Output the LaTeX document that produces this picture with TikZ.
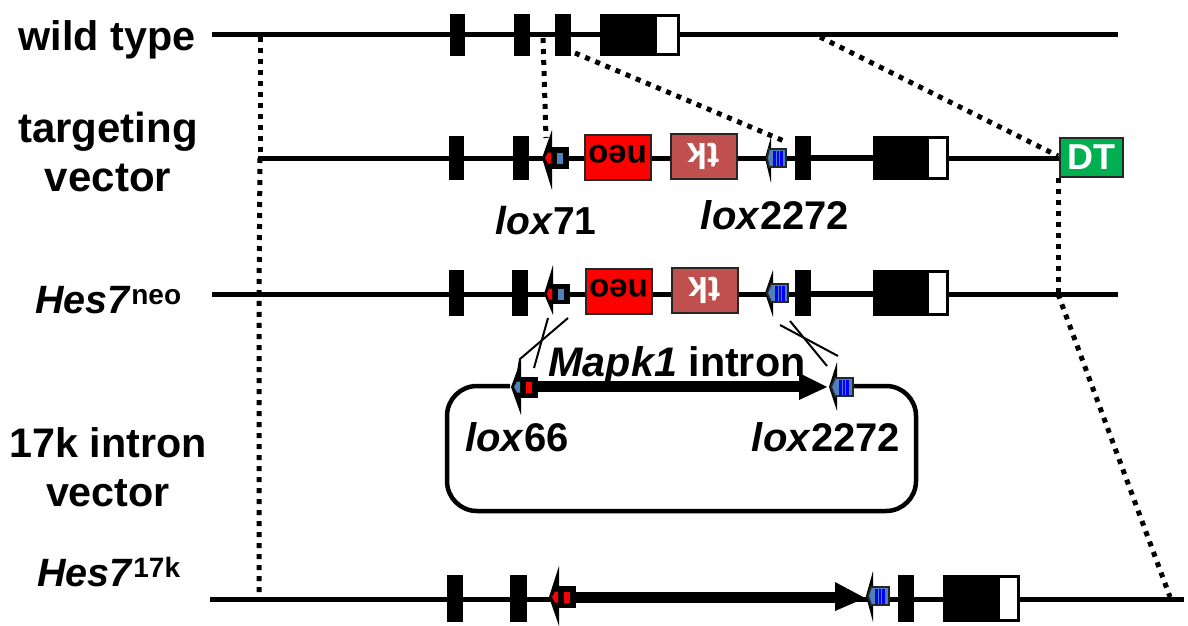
\documentclass[tikz,border=0pt]{standalone}
\usepackage{fontspec}
\setmainfont{Liberation Sans}
\usetikzlibrary{calc}
\definecolor{loxblue}{HTML}{4F81BD}
\definecolor{tkred}{HTML}{C0504D}
\definecolor{dtgreen}{HTML}{00B050}
\newcommand{\fs}[1]{\fontsize{#1}{#1}\selectfont}
\tikzset{
  gene/.style={line width=5pt,black},
  exon/.style={fill=black,draw=none},
  whiteexon/.style={fill=white,draw=black,line width=3.2pt},
  dots/.style={line width=5pt,dash pattern=on 5pt off 6pt,black},
  cross/.style={line width=2pt,black},
  lbl/.style={inner sep=0pt,font=\fs{41.3}\bfseries,align=center},
  loxlbl/.style={inner sep=0pt,font=\fs{40}\bfseries},
  neobox/.style={fill=red,draw=black!85,line width=2pt},
  tkbox/.style={fill=tkred,draw=black!85,line width=2pt},
  dtbox/.style={fill=dtgreen,draw=black!85,line width=2pt},
  hug/.style={rounded corners=30pt,draw=black,line width=4.5pt,fill=none},
  fat/.style={line width=11pt,black},
}
\newcommand{\exonbar}[4]{\fill[exon] (#1,#3) rectangle (#2,#4);}
\newcommand{\bigexon}[5]{%
  \fill[exon] (#1,#4) rectangle (#2,#5);
  \draw[whiteexon] (#2,#4+1.5) rectangle (#3-1.5,#5-1.5);}
\newcommand{\spike}[5]{\fill[black] (#1,#3) -- (#2+1,#4) -- (#2+1,#5) -- cycle;}
\newcommand{\loxblack}[9]{%
  \spike{#1}{#2}{#4}{#5}{#6}
  \fill[black] (#2,#4-#7) rectangle (#3,#4+#7);
  \fill[#8] (#1+3,#4) -- (#2-3,#4-5.5) -- (#2,#4-5.5) -- (#2,#4+5.5) -- (#2-3,#4+5.5) -- cycle;
  \fill[#9] (#2+6,#4-5.5) rectangle (#2+12,#4+5.5);}
\newcommand{\loxblue}[6]{%
  \spike{#1}{#2}{#4}{#5}{#6}
  \filldraw[fill=loxblue,draw=black!85,line width=1.8pt] (#1+2,#4) -- (#2-1,#4-9) -- (#3,#4-9) -- (#3,#4+9) -- (#2-1,#4+9) -- cycle;
  \fill[blue] (#2+3,#4-7.5) rectangle (#2+5.5,#4+7.5);
  \fill[blue] (#2+6.5,#4-7.5) rectangle (#2+9,#4+7.5);
  \fill[blue] (#2+10,#4-7.5) rectangle (#2+12.5,#4+7.5);}
\begin{document}
\begin{tikzpicture}[x=1pt,y=-1pt]
\useasboundingbox (0,0) rectangle (1188,626);
\coordinate (wl) at (212,35);   \coordinate (wr) at (1118,35);
\coordinate (tl) at (258,158);  \coordinate (tr) at (1060,158);
\coordinate (nl) at (212,294);  \coordinate (nr) at (1118,294);
\coordinate (kl) at (210,599);  \coordinate (kr) at (1184,599);
\coordinate (d1a) at (260,37);  \coordinate (d1b) at (260,158);
\coordinate (d2a) at (543,38);  \coordinate (d2b) at (546,138);
\coordinate (d3a) at (575,53);  \coordinate (d3b) at (784,141);
\coordinate (d4a) at (820,37);  \coordinate (d4b) at (1058,156);
\coordinate (d5a) at (1058,178);\coordinate (d5b) at (1058,294);
\coordinate (d6a) at (1170,597);
\coordinate (d7a) at (259,296); \coordinate (d7b) at (259,597);
\draw[dots] (d1a) -- (d1b);
\draw[dots] (d2a) -- (d2b);
\draw[dots] (d3a) -- (d3b);
\draw[dots] (d4a) -- (d4b);
\draw[dots] (d5a) -- (d5b);
\draw[dots] (d5b) -- (d6a);
\draw[dots] (d1b) -- (d7a) -- (d7b);
\draw[gene] (wl) -- (wr);
\exonbar{450}{465}{14}{56}
\exonbar{514}{530}{14}{56}
\exonbar{555}{571}{14}{56}
\bigexon{600}{655}{680}{14}{56}
\draw[gene] (tl) -- (tr);
\exonbar{449}{464}{136}{180}
\exonbar{513}{529}{136}{180}
\exonbar{795}{811}{136}{180}
\bigexon{873}{927}{949}{136}{180}
\loxblack{542}{551}{569}{158}{130}{190}{11}{red}{loxblue}
\node[neobox,minimum width=66pt,minimum height=45pt,inner sep=0pt] (neo1) at (617.5,157) {};
\node[rotate=180,inner sep=0pt,font=\fs{33}\bfseries] at (617.5,154) {neo};
\node[tkbox,minimum width=66pt,minimum height=45pt,inner sep=0pt] (tk1) at (703.5,156) {};
\node[rotate=180,inner sep=0pt,font=\fs{36}\bfseries,text=white] at (703.5,156) {tk};
\loxblue{765}{770}{786}{158}{137}{183}
\node[dtbox,minimum width=63pt,minimum height=39pt,inner sep=0pt,text=white,font=\fs{36}\bfseries] (dt) at (1091,157) {DT};
\draw[gene] (nl) -- (nr);
\exonbar{449}{464}{270}{316}
\exonbar{512}{528}{270}{316}
\exonbar{795}{811}{270}{316}
\bigexon{873}{927}{949}{270}{316}
\draw[line width=6.5pt] (811,294) -- (873,294);
\draw[line width=6.5pt] (811,158) -- (873,158);
\loxblack{544}{552}{570}{294}{265}{315}{10}{red}{loxblue}
\node[neobox,minimum width=66pt,minimum height=45pt,inner sep=0pt] (neo2) at (618.5,291) {};
\node[rotate=180,inner sep=0pt,font=\fs{33}\bfseries] at (618.5,288) {neo};
\node[tkbox,minimum width=66pt,minimum height=45pt,inner sep=0pt] (tk2) at (704.5,290) {};
\node[rotate=180,inner sep=0pt,font=\fs{36}\bfseries,text=white] at (704.5,290) {tk};
\loxblue{765}{772}{788}{293}{270}{317}
\coordinate (c1a) at (568,318); \coordinate (c1b) at (520,359); \coordinate (c1c) at (518,372);
\coordinate (c2a) at (548,318); \coordinate (c2b) at (534,368);
\coordinate (c3a) at (780,325); \coordinate (c3b) at (838,356);
\coordinate (c4a) at (790,321); \coordinate (c4b) at (827,366);
\draw[cross] (c1a) -- (c1b) -- (c1c);
\draw[cross] (c2a) -- (c2b);
\draw[cross] (c3a) -- (c3b);
\draw[cross] (c4a) -- (c4b);
\draw[hug] (510,386) -- (447,386) -- (447,511) -- (916,511) -- (916,386) -- (853,386);
\draw[fat] (538,386) -- (802,386);
\fill[black] (799,373) -- (827,387) -- (799,400) -- cycle;
\loxblack{511}{520}{538}{387}{360}{415}{10.5}{loxblue}{red}
\loxblue{829}{836}{853}{387}{362}{411}
\draw[gene] (kl) -- (kr);
\exonbar{447}{463}{575}{622}
\exonbar{510}{527}{575}{622}
\exonbar{898}{914}{575}{622}
\bigexon{943}{998}{1020}{575}{622}
\loxblack{549}{558}{576}{597}{566}{626}{11}{red}{red}
\draw[fat] (576,597) -- (838,597);
\fill[black] (835,582) -- (865,598) -- (835,611) -- cycle;
\loxblue{866}{872}{889}{596}{571}{622}
\node[lbl] (lw) at (107,40) {wild type};
\node[lbl,font=\fs{42}\bfseries] (lt) at (108,151.5) {targeting\\[7pt]vector};
\node[lbl,font=\fs{39.5}\bfseries] (ln) at (108.5,300) {\textit{Hes7}\textsuperscript{\fs{28}neo}};
\node[lbl] (li) at (108,467) {17k intron\\[8pt]vector};
\node[lbl,font=\fs{39.5}\bfseries] (lk) at (109,572) {\textit{Hes7}\textsuperscript{\fs{28}17k}};
\node[loxlbl,font=\fs{39}\bfseries] (l71) at (546,221) {\textit{lox}71};
\node[loxlbl] (l22a) at (775,215) {\textit{lox}2272};
\node[lbl] (lmap) at (677,366) {\textit{Mapk1} intron};
\node[loxlbl] (l66) at (517,437) {\textit{lox}66};
\node[loxlbl] (l22b) at (826,437) {\textit{lox}2272};
\end{tikzpicture}
\end{document}
